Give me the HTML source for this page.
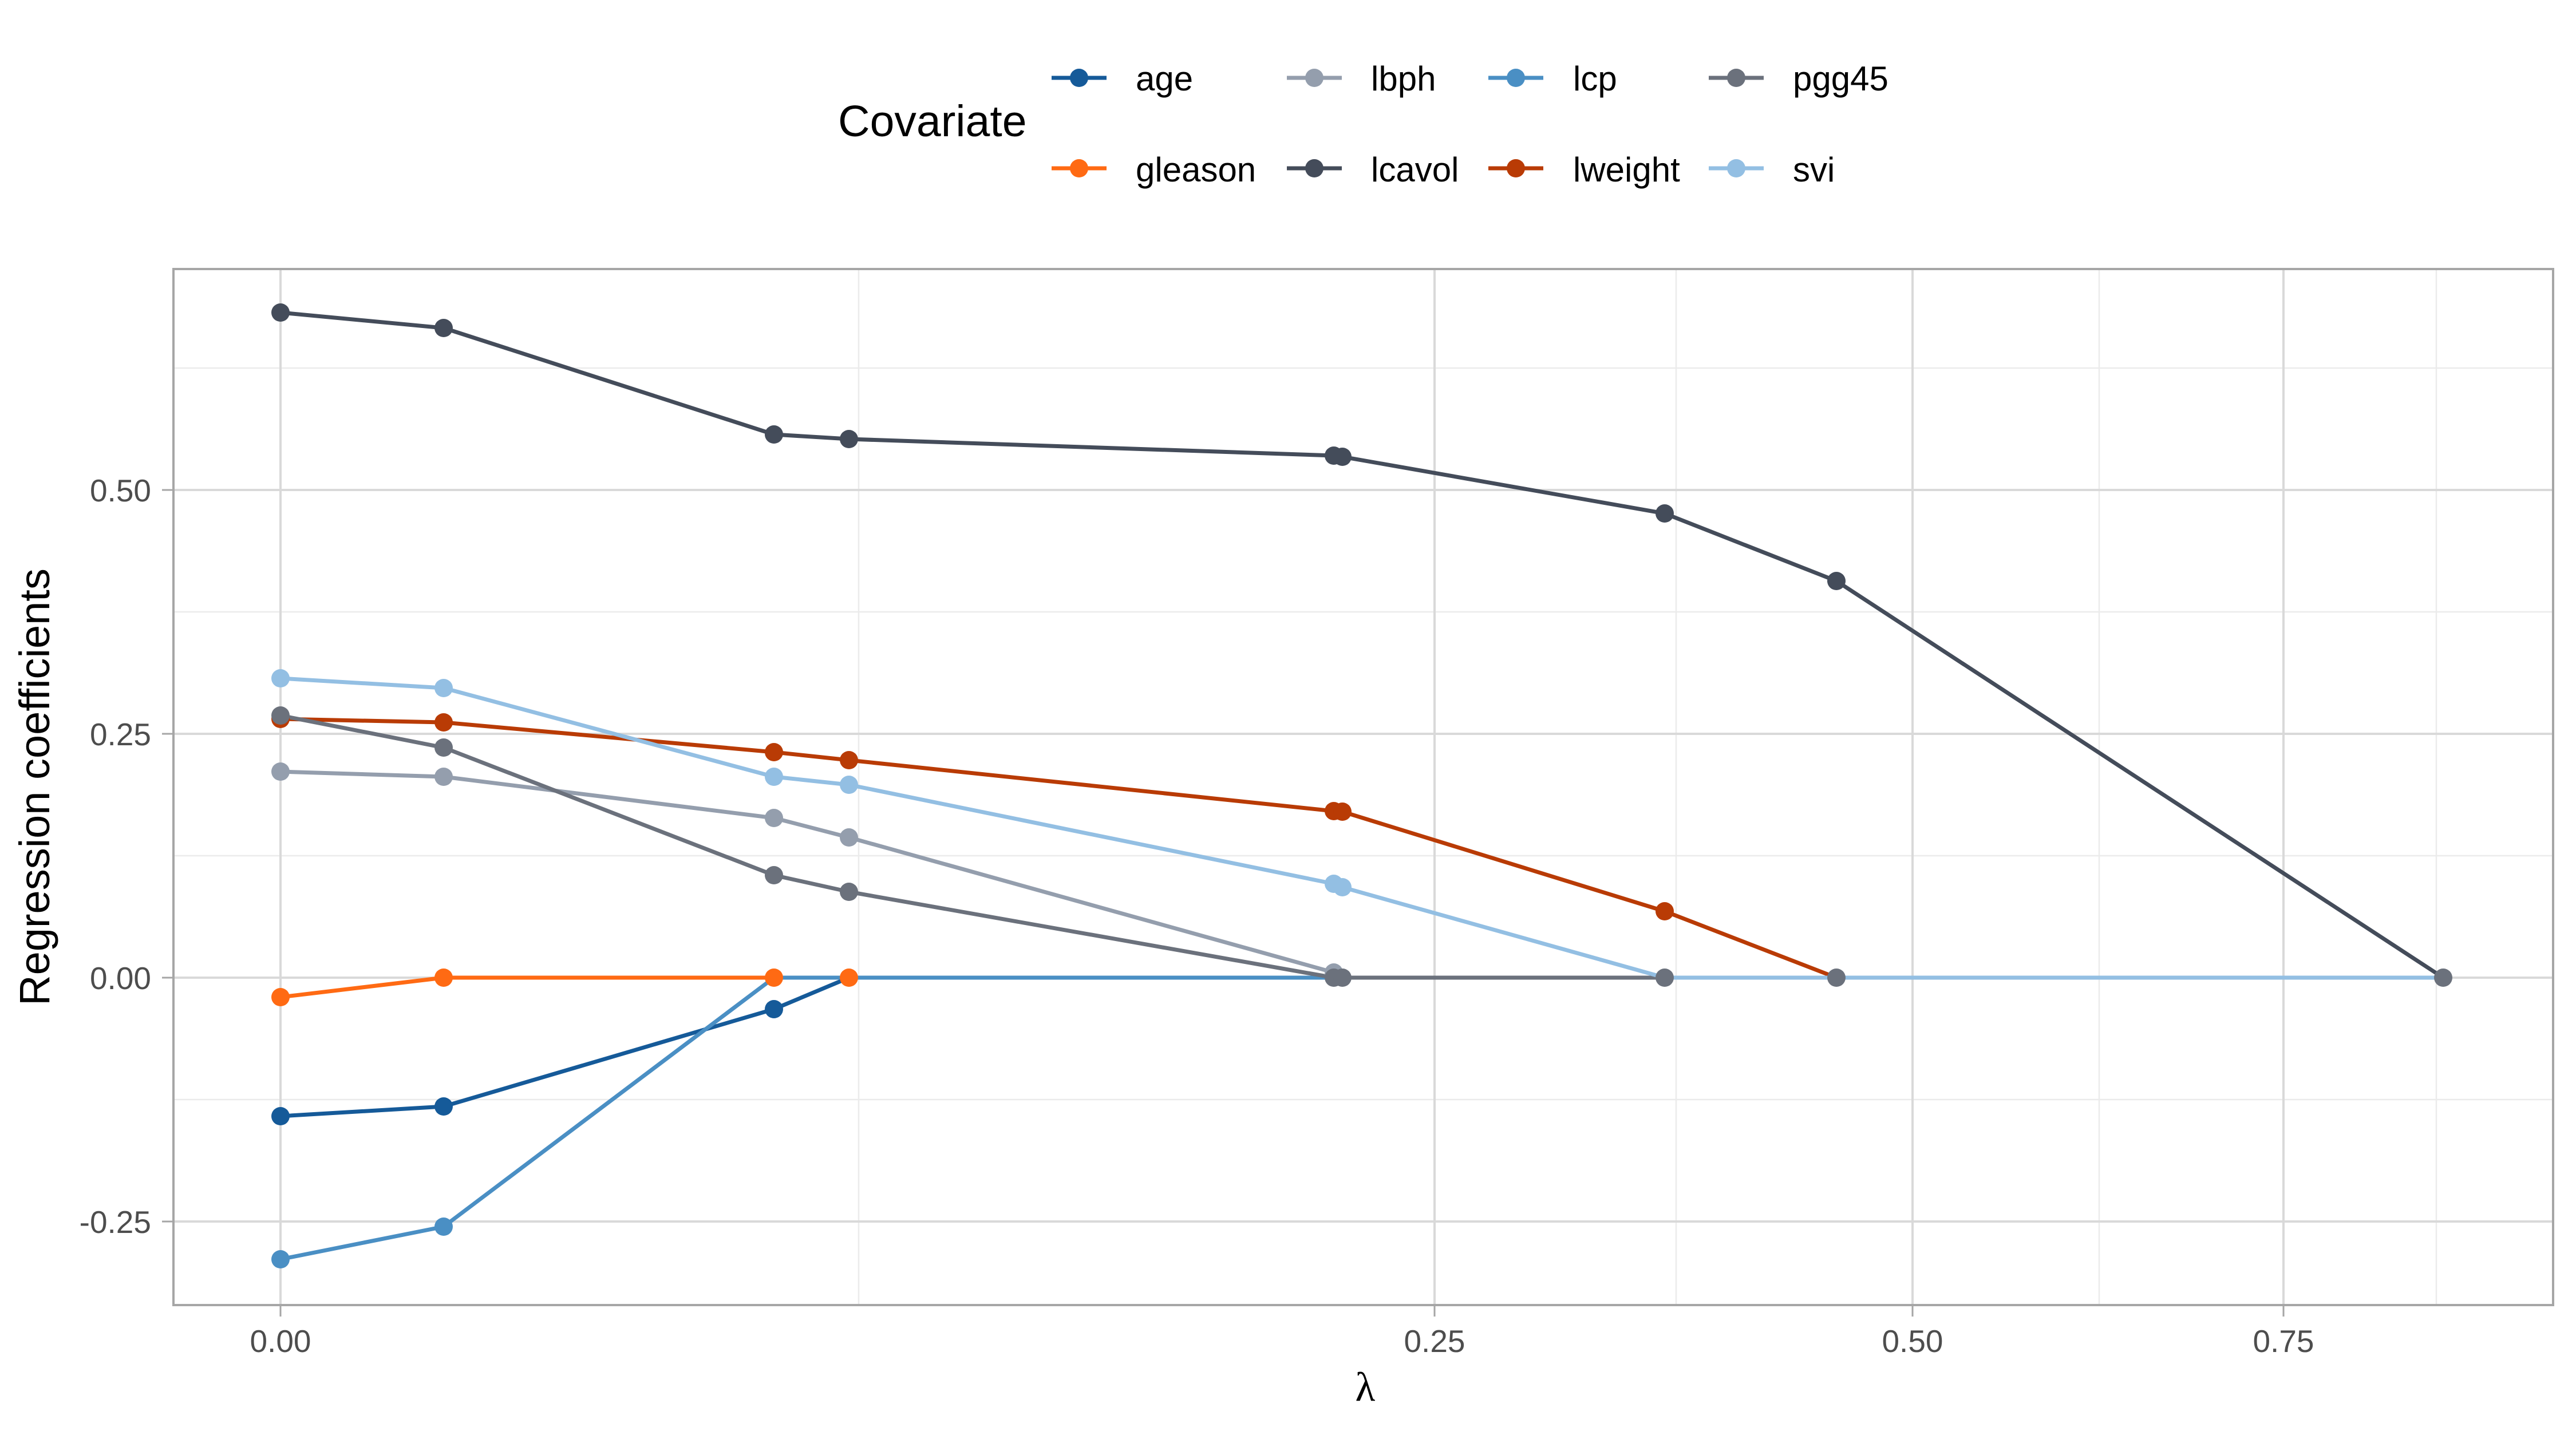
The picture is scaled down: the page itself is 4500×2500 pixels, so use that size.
<!DOCTYPE html>
<html><head><meta charset="utf-8"><style>
html,body{margin:0;padding:0;background:#fff;}
svg{display:block;font-family:"Liberation Sans",sans-serif;}
</style></head><body>
<svg width="4500" height="2500" viewBox="0 0 4500 2500" xmlns="http://www.w3.org/2000/svg">
<rect width="4500" height="2500" fill="#fff"/>
<g stroke="#ebebeb" stroke-width="2.5">
<line x1="303" x2="4460" y1="1069" y2="1069"/>
<line x1="303" x2="4460" y1="1495" y2="1495"/>
<line x1="303" x2="4460" y1="1921" y2="1921"/>
<line x1="303" x2="4460" y1="643" y2="643"/>
<line x1="1500" x2="1500" y1="469" y2="2280"/>
<line x1="2928" x2="2928" y1="469" y2="2280"/>
<line x1="3667" x2="3667" y1="469" y2="2280"/>
<line x1="4256" x2="4256" y1="469" y2="2280"/>
</g>
<g stroke="#d9d9d9" stroke-width="4">
<line x1="303" x2="4460" y1="856" y2="856"/>
<line x1="303" x2="4460" y1="1282" y2="1282"/>
<line x1="303" x2="4460" y1="1708" y2="1708"/>
<line x1="303" x2="4460" y1="2134" y2="2134"/>
<line x1="490" x2="490" y1="469" y2="2280"/>
<line x1="2506" x2="2506" y1="469" y2="2280"/>
<line x1="3341" x2="3341" y1="469" y2="2280"/>
<line x1="3989" x2="3989" y1="469" y2="2280"/>
</g>
<rect x="303" y="470" width="4157" height="1810" fill="none" stroke="#a6a6a6" stroke-width="4"/>
<g stroke="#a6a6a6" stroke-width="3">
<line x1="283" x2="303" y1="856" y2="856"/><line x1="283" x2="303" y1="1282" y2="1282"/>
<line x1="283" x2="303" y1="1708" y2="1708"/><line x1="283" x2="303" y1="2134" y2="2134"/>
<line x1="490" x2="490" y1="2280" y2="2300"/><line x1="2506" x2="2506" y1="2280" y2="2300"/>
<line x1="3341" x2="3341" y1="2280" y2="2300"/><line x1="3989" x2="3989" y1="2280" y2="2300"/>
</g>
<g fill="#4d4d4d" font-size="55" text-anchor="end">
<text x="264" y="876">0.50</text><text x="264" y="1302">0.25</text>
<text x="264" y="1728">0.00</text><text x="264" y="2154">-0.25</text>
</g>
<g fill="#4d4d4d" font-size="55" text-anchor="middle">
<text x="490" y="2362">0.00</text><text x="2506" y="2362">0.25</text>
<text x="3341" y="2362">0.50</text><text x="3989" y="2362">0.75</text>
</g>
<text x="2385" y="2447" font-size="72" text-anchor="middle" font-family="Liberation Serif,serif">λ</text>
<text transform="translate(86,1375) rotate(-90)" font-size="74" text-anchor="middle">Regression coefficients</text>
<g fill="none" stroke-width="7" stroke-linejoin="round">
<polyline stroke="#155a99" points="490,1950 775,1933 1352,1763 1483,1708 2330,1708 2345,1708 2908,1708 3208,1708 4268,1708"/>
<polyline stroke="#ff6a13" points="490,1742 775,1708 1352,1708 1483,1708 2330,1708 2345,1708 2908,1708 3208,1708 4268,1708"/>
<polyline stroke="#949ead" points="490,1348 775,1357 1352,1429 1483,1463 2330,1699 2345,1708 2908,1708 3208,1708 4268,1708"/>
<polyline stroke="#444c5a" points="490,546 775,573 1352,759 1483,767 2330,796 2345,798 2908,897 3208,1015 4268,1708"/>
<polyline stroke="#4a8fc4" points="490,2200 775,2143 1352,1708 1483,1708 2330,1708 2345,1708 2908,1708 3208,1708 4268,1708"/>
<polyline stroke="#b93b05" points="490,1256 775,1262 1352,1314 1483,1328 2330,1417 2345,1418 2908,1592 3208,1708 4268,1708"/>
<polyline stroke="#6b717c" points="490,1250 775,1306 1352,1529 1483,1558 2330,1708 2345,1708 2908,1708 3208,1708 4268,1708"/>
<polyline stroke="#93bfe3" points="490,1185 775,1202 1352,1357 1483,1371 2330,1544 2345,1550 2908,1708 3208,1708 4268,1708"/>
</g>
<g>
<g fill="#155a99"><circle cx="490" cy="1950" r="16"/><circle cx="775" cy="1933" r="16"/><circle cx="1352" cy="1763" r="16"/></g>
<g fill="#ff6a13"><circle cx="490" cy="1742" r="16"/><circle cx="775" cy="1708" r="16"/><circle cx="1352" cy="1708" r="16"/><circle cx="1483" cy="1708" r="16"/></g>
<g fill="#949ead"><circle cx="490" cy="1348" r="16"/><circle cx="775" cy="1357" r="16"/><circle cx="1352" cy="1429" r="16"/><circle cx="1483" cy="1463" r="16"/><circle cx="2330" cy="1699" r="16"/></g>
<g fill="#444c5a"><circle cx="490" cy="546" r="16"/><circle cx="775" cy="573" r="16"/><circle cx="1352" cy="759" r="16"/><circle cx="1483" cy="767" r="16"/><circle cx="2330" cy="796" r="16"/><circle cx="2345" cy="798" r="16"/><circle cx="2908" cy="897" r="16"/><circle cx="3208" cy="1015" r="16"/></g>
<g fill="#4a8fc4"><circle cx="490" cy="2200" r="16"/><circle cx="775" cy="2143" r="16"/></g>
<g fill="#b93b05"><circle cx="490" cy="1256" r="16"/><circle cx="775" cy="1262" r="16"/><circle cx="1352" cy="1314" r="16"/><circle cx="1483" cy="1328" r="16"/><circle cx="2330" cy="1417" r="16"/><circle cx="2345" cy="1418" r="16"/><circle cx="2908" cy="1592" r="16"/></g>
<g fill="#6b717c"><circle cx="490" cy="1250" r="16"/><circle cx="775" cy="1306" r="16"/><circle cx="1352" cy="1529" r="16"/><circle cx="1483" cy="1558" r="16"/></g>
<g fill="#93bfe3"><circle cx="490" cy="1185" r="16"/><circle cx="775" cy="1202" r="16"/><circle cx="1352" cy="1357" r="16"/><circle cx="1483" cy="1371" r="16"/><circle cx="2330" cy="1544" r="16"/><circle cx="2345" cy="1550" r="16"/></g>
<g fill="#6b717c"><circle cx="2330" cy="1708" r="16"/><circle cx="2345" cy="1708" r="16"/><circle cx="2908" cy="1708" r="16"/><circle cx="3208" cy="1708" r="16"/><circle cx="4268" cy="1708" r="16"/></g>
</g>
<text x="1464" y="238" font-size="77">Covariate</text>
<g stroke-width="7">
<line x1="1837" x2="1933" y1="136" y2="136" stroke="#155a99"/>
<line x1="2248" x2="2344" y1="136" y2="136" stroke="#949ead"/>
<line x1="2600" x2="2696" y1="136" y2="136" stroke="#4a8fc4"/>
<line x1="2985" x2="3081" y1="136" y2="136" stroke="#6b717c"/>
<line x1="1837" x2="1933" y1="294" y2="294" stroke="#ff6a13"/>
<line x1="2248" x2="2344" y1="294" y2="294" stroke="#444c5a"/>
<line x1="2600" x2="2696" y1="294" y2="294" stroke="#b93b05"/>
<line x1="2985" x2="3081" y1="294" y2="294" stroke="#93bfe3"/>
</g>
<circle cx="1885" cy="136" r="16" fill="#155a99"/><circle cx="2296" cy="136" r="16" fill="#949ead"/>
<circle cx="2648" cy="136" r="16" fill="#4a8fc4"/><circle cx="3033" cy="136" r="16" fill="#6b717c"/>
<circle cx="1885" cy="294" r="16" fill="#ff6a13"/><circle cx="2296" cy="294" r="16" fill="#444c5a"/>
<circle cx="2648" cy="294" r="16" fill="#b93b05"/><circle cx="3033" cy="294" r="16" fill="#93bfe3"/>
<g font-size="60" fill="#000">
<text x="1984" y="158">age</text><text x="2395" y="158">lbph</text><text x="2748" y="158">lcp</text><text x="3132" y="158">pgg45</text>
<text x="1984" y="317">gleason</text><text x="2395" y="317">lcavol</text><text x="2748" y="317">lweight</text><text x="3132" y="317">svi</text>
</g>
</svg>
</body></html>
